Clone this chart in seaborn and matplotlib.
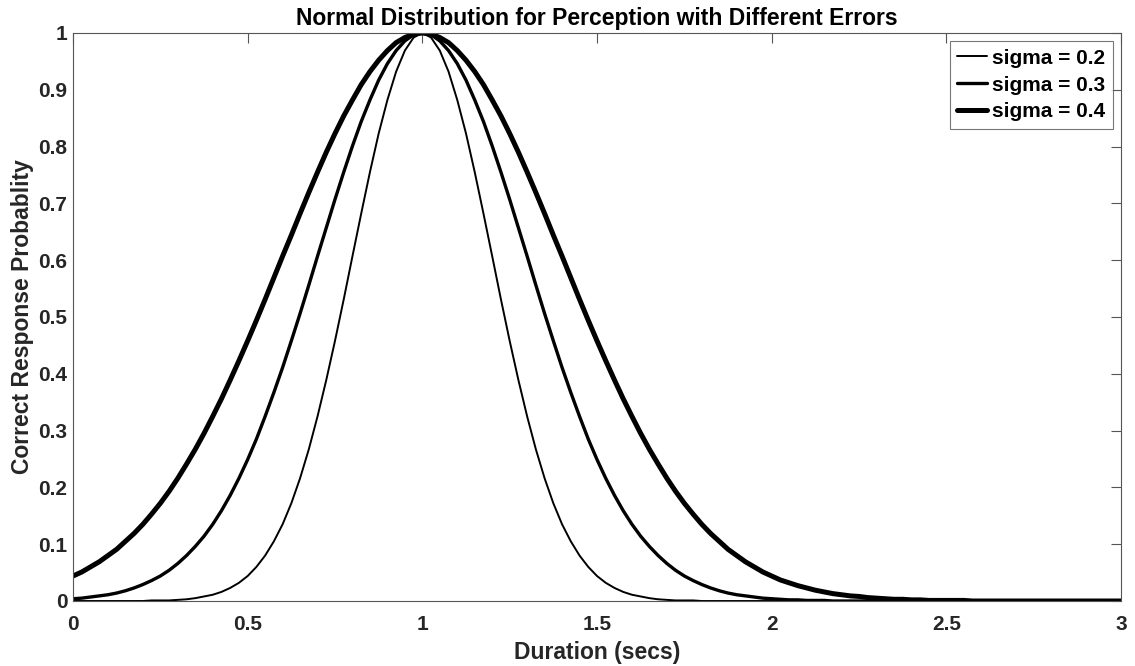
import numpy as np
import pandas as pd
import seaborn as sns
import matplotlib.pyplot as plt
from matplotlib.ticker import FuncFormatter

# duration grid (secs), step 0.025 from 0 to 3
duration = np.linspace(0, 3, 121)

# correct response probability, one list per sigma
# (left half: 0 -> 1 s, right half: 1.025 -> 3 s)
prob_s02 = ([0.0] * 9 +
            [0.001, 0.001, 0.001, 0.002, 0.003, 0.005, 0.008, 0.011, 0.016, 0.023,
             0.032, 0.044, 0.060, 0.080, 0.105, 0.135, 0.172, 0.216, 0.267, 0.325,
             0.389, 0.458, 0.531, 0.607, 0.682, 0.755, 0.823, 0.882, 0.932, 0.969,
             0.992, 1.0] +
            [0.992, 0.969, 0.932, 0.882, 0.823, 0.755, 0.682, 0.607, 0.531, 0.458,
             0.389, 0.325, 0.267, 0.216, 0.172, 0.135, 0.105, 0.080, 0.060, 0.044,
             0.032, 0.023, 0.016, 0.011, 0.008, 0.005, 0.003, 0.002, 0.001, 0.001,
             0.001] + [0.0] * 49)
prob_s03 = ([0.004, 0.005, 0.007, 0.009, 0.011, 0.014, 0.018, 0.023, 0.029, 0.036,
             0.044, 0.054, 0.066, 0.080, 0.096, 0.114, 0.135, 0.159, 0.186, 0.216,
             0.249, 0.285, 0.325, 0.367, 0.411, 0.458, 0.506, 0.556, 0.607, 0.657,
             0.707, 0.755, 0.801, 0.844, 0.882, 0.917, 0.946, 0.969, 0.986, 0.997,
             1.0] +
            [0.997, 0.986, 0.969, 0.946, 0.917, 0.882, 0.844, 0.801, 0.755, 0.707,
             0.657, 0.607, 0.556, 0.506, 0.458, 0.411, 0.367, 0.325, 0.285, 0.249,
             0.216, 0.186, 0.159, 0.135, 0.114, 0.096, 0.080, 0.066, 0.054, 0.044,
             0.036, 0.029, 0.023, 0.018, 0.014, 0.011, 0.009, 0.007, 0.005, 0.004,
             0.003, 0.002, 0.002, 0.001, 0.001, 0.001] + [0.0] * 34)
prob_s04 = ([0.044, 0.051, 0.060, 0.069, 0.080, 0.091, 0.105, 0.119, 0.135, 0.153,
             0.172, 0.193, 0.216, 0.241, 0.267, 0.295, 0.325, 0.356, 0.389, 0.423,
             0.458, 0.494, 0.531, 0.569, 0.607, 0.644, 0.682, 0.719, 0.755, 0.790,
             0.823, 0.854, 0.882, 0.909, 0.932, 0.952, 0.969, 0.983, 0.992, 0.998,
             1.0] +
            [0.998, 0.992, 0.983, 0.969, 0.952, 0.932, 0.909, 0.882, 0.854, 0.823,
             0.790, 0.755, 0.719, 0.682, 0.644, 0.607, 0.569, 0.531, 0.494, 0.458,
             0.423, 0.389, 0.356, 0.325, 0.295, 0.267, 0.241, 0.216, 0.193, 0.172,
             0.153, 0.135, 0.119, 0.105, 0.091, 0.080, 0.069, 0.060, 0.051, 0.044,
             0.037, 0.032, 0.027, 0.023, 0.019, 0.016, 0.013, 0.011, 0.009, 0.008,
             0.006, 0.005, 0.004, 0.003, 0.003, 0.002, 0.002, 0.001, 0.001, 0.001,
             0.001, 0.001] + [0.0] * 18)

labels = ['sigma = 0.2', 'sigma = 0.3', 'sigma = 0.4']
widths = [1.4, 2.4, 3.6]

x_ticks = [0, 0.5, 1, 1.5, 2, 2.5, 3]
y_ticks = [0, 0.1, 0.2, 0.3, 0.4, 0.5, 0.6, 0.7, 0.8, 0.9, 1]

sns.set_style("white")
plt.rcParams['font.family'] = ['Liberation Sans', 'DejaVu Sans']
plt.rcParams['font.weight'] = 'bold'

df = pd.DataFrame({'duration': duration, labels[0]: prob_s02,
                   labels[1]: prob_s03, labels[2]: prob_s04})

fig = plt.figure(figsize=(11.35, 6.66), dpi=100)
ax = fig.add_axes([0.0643, 0.0976, 0.9234, 0.8529])

for lab, lw in zip(labels, widths):
    sns.lineplot(data=df, x='duration', y=lab, color='black', linewidth=lw,
                 label=lab, ax=ax)

ax.set_xlim(0, 3)
ax.set_ylim(0, 1)
ax.set_xticks(x_ticks)
ax.set_yticks(y_ticks)
fmt = FuncFormatter(lambda v, p: '%g' % v)
ax.xaxis.set_major_formatter(fmt)
ax.yaxis.set_major_formatter(fmt)

axis_col = '#555555'
for sp in ax.spines.values():
    sp.set_visible(True)
    sp.set_color(axis_col)
    sp.set_linewidth(0.8)
ax.tick_params(direction='in', length=7, width=0.8, color=axis_col,
               top=True, right=True, labelsize=15, labelcolor='#262626')
ax.tick_params(axis='x', pad=10)
ax.tick_params(axis='y', pad=4)
for t in ax.get_xticklabels() + ax.get_yticklabels():
    t.set_fontweight('bold')

ax.set_xlabel('Duration (secs)', fontsize=16.5, fontweight='bold', color='#262626', labelpad=5)
ax.set_ylabel('Correct Response Probablity', fontsize=16.5, fontweight='bold', color='#262626', labelpad=3)
ax.set_title('Normal Distribution for Perception with Different Errors',
             fontsize=16.5, fontweight='bold', color='black', pad=6)

leg = ax.legend(loc='upper right', fontsize=15, frameon=True, fancybox=False,
                handlelength=1.45, handletextpad=0.25, borderpad=0.35,
                labelspacing=0.38, borderaxespad=0.4)
leg.get_frame().set_edgecolor(axis_col)
leg.get_frame().set_linewidth(0.8)
for t in leg.get_texts():
    t.set_fontweight('bold')
    t.set_color('black')

fig.savefig('out.png', dpi=100)
